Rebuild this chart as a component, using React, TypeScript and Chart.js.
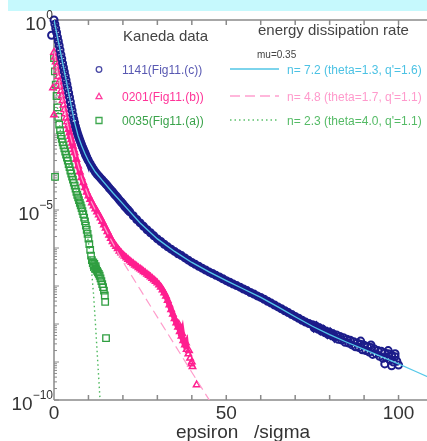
import React, { useEffect, useRef } from "react";
import { Chart, registerables } from "chart.js";

Chart.register(...registerables);

// ---- data (x = epsilon/sigma, value given as log10 of the probability) ----
const xTickValues = [0, 50, 100];
const xTickLabels = ["0", "50", "100"];
const yTickExps = [0, -5, -10];
const axisTitle = "epsiron   /sigma";

const kaneda1141: number[][] = [
  [-0.7, -0.4],
  [0, 0], [0.25, -0.11], [0.5, -0.22], [0.75, -0.33], [1, -0.45], [1.25, -0.56], [1.5, -0.67], [1.75, -0.79],
  [2, -0.91], [2.25, -1.02], [2.5, -1.14], [2.75, -1.25], [3, -1.36], [3.25, -1.47], [3.5, -1.58], [3.75, -1.69],
  [4, -1.8], [4.25, -1.92], [4.5, -2.03], [4.75, -2.15], [5, -2.27], [5.25, -2.38], [5.5, -2.5], [5.75, -2.61],
  [6, -2.7], [6.25, -2.8], [6.5, -2.88], [6.75, -2.96], [7, -3.03], [7.25, -3.1], [7.5, -3.16], [7.75, -3.22],
  [8, -3.28], [8.25, -3.34], [8.5, -3.39], [8.75, -3.45], [9, -3.5], [9.25, -3.56], [9.5, -3.61], [9.75, -3.66],
  [10, -3.7], [10.5, -3.78], [11, -3.86], [11.5, -3.93], [12, -4.0], [12.5, -4.06], [13, -4.11], [13.5, -4.16],
  [14, -4.21], [14.5, -4.26], [15, -4.31], [15.5, -4.36], [16, -4.42], [16.5, -4.47], [17, -4.52], [17.5, -4.58],
  [18, -4.63], [18.5, -4.68], [19, -4.74], [19.5, -4.79], [20, -4.84], [20.5, -4.9], [21, -4.95], [21.5, -5.0],
  [22, -5.05], [23, -5.15], [24, -5.25], [25, -5.34], [26, -5.43], [27, -5.52], [28, -5.6], [29, -5.68],
  [30, -5.76], [31, -5.83], [32, -5.9], [33, -5.97], [34, -6.03], [35, -6.09], [36, -6.15], [37, -6.2],
  [38, -6.26], [39, -6.32], [40, -6.38], [41, -6.43], [42, -6.48], [43, -6.53], [44, -6.58], [45, -6.63],
  [46, -6.67], [47, -6.72], [48, -6.76], [49, -6.81], [50, -6.86], [51, -6.9], [52, -6.95], [53, -6.99],
  [54, -7.03], [55, -7.08], [56, -7.12], [57, -7.17], [58, -7.21], [59, -7.26], [60, -7.3], [61, -7.35],
  [62, -7.4], [63, -7.45], [64, -7.5], [65, -7.55], [66, -7.6], [67, -7.65], [68, -7.7], [69, -7.75],
  [70, -7.8], [71, -7.85], [72, -7.9], [73, -7.95], [74, -7.99],
  [75, -8.02], [75.5, -8.1], [76, -8.05], [76.5, -8.13], [77, -8.1], [77.5, -8.18], [78, -8.14], [78.5, -8.22],
  [79, -8.19], [79.5, -8.27], [80, -8.22], [80.5, -8.3], [81, -8.26], [81.5, -8.35], [82, -8.29], [82.5, -8.4],
  [83, -8.33], [83.5, -8.42], [84, -8.36], [84.5, -8.48], [85, -8.4], [85.5, -8.5], [86, -8.43], [86.5, -8.55],
  [87, -8.47], [87.5, -8.6], [88, -8.5], [88.5, -8.62], [89, -8.53], [89, -8.45], [89.5, -8.68], [90, -8.56],
  [90.5, -8.7], [91, -8.6], [91.5, -8.74], [92, -8.62], [92, -8.55], [92.5, -8.8], [93, -8.66], [93.5, -8.78],
  [94, -8.7], [94.5, -8.85], [95, -8.72], [95.5, -8.9], [96, -8.76], [96, -9.05], [96.5, -8.88], [97, -8.78],
  [97, -8.7], [97.5, -8.95], [98, -8.82], [98, -9.1], [98.5, -9.0], [99, -8.86], [99, -8.78], [99.5, -8.98],
  [100, -9.08],
];

const kaneda0201: number[][] = [
  [-0.3, -1.32], [-0.3, -1.79], [0, -2.5],
  [0, -0.85], [0.25, -0.98], [0.5, -1.1], [0.75, -1.23], [1, -1.36], [1.25, -1.49], [1.5, -1.62], [1.75, -1.75],
  [2, -1.88], [2.25, -2.0], [2.5, -2.12], [2.75, -2.24], [3, -2.36], [3.25, -2.47], [3.5, -2.58], [3.75, -2.68],
  [4, -2.78], [4.25, -2.88], [4.5, -2.97], [4.75, -3.06], [5, -3.15], [5.25, -3.24], [5.5, -3.32], [5.75, -3.41],
  [6, -3.49], [6.5, -3.67], [7, -3.84], [7.5, -4.0], [8, -4.15], [8.5, -4.28], [9, -4.41], [9.5, -4.53],
  [10, -4.63], [10.5, -4.72], [11, -4.81], [11.5, -4.89], [12, -4.97], [12.5, -5.05], [13, -5.13], [13.5, -5.21],
  [14, -5.3], [14.5, -5.39], [15, -5.48], [15.5, -5.57], [16, -5.66], [16.5, -5.75], [17, -5.83], [17.5, -5.9],
  [18, -5.96], [18.5, -6.02], [19, -6.08], [19.5, -6.13], [20, -6.18], [20.5, -6.22], [21, -6.26], [21.5, -6.3],
  [22, -6.34], [22.5, -6.38], [23, -6.41], [23.5, -6.45], [24, -6.48], [24.5, -6.52], [25, -6.55], [25.5, -6.58],
  [26, -6.62], [26.5, -6.65], [27, -6.69], [27.5, -6.72], [28, -6.76], [28.5, -6.8], [29, -6.84], [29.5, -6.88],
  [30, -6.92], [30.5, -6.97], [31, -7.03], [31.5, -7.1], [32, -7.18], [32.5, -7.27], [33, -7.38], [33.5, -7.5],
  [34, -7.62], [34.5, -7.74], [35, -7.86], [35.5, -7.97], [36, -8.08], [36.2, -8.0], [36.5, -8.2], [37, -8.32],
  [37.2, -8.25], [37.5, -8.44], [38, -8.55], [38.3, -8.5], [38.5, -8.67], [39, -8.79], [39.2, -8.7], [39.5, -8.9],
  [39.8, -9.05], [40, -9.0], [40.2, -9.12], [41.4, -9.6],
];

const kaneda0035: number[][] = [
  [0.3, -4.13],
  [0, -1.0], [0.25, -1.35], [0.5, -1.7], [0.75, -2.0], [1, -2.3], [1.25, -2.55], [1.5, -2.75], [1.75, -2.9],
  [2, -3.03], [2.25, -3.13], [2.5, -3.22], [2.75, -3.3], [3, -3.38], [3.25, -3.46], [3.5, -3.54], [3.75, -3.62],
  [4, -3.7], [4.25, -3.79], [4.5, -3.87], [4.75, -3.96], [5, -4.04], [5.25, -4.12], [5.5, -4.2], [5.75, -4.28],
  [6, -4.36], [6.25, -4.44], [6.5, -4.52], [6.75, -4.6], [7, -4.67], [7.25, -4.74], [7.5, -4.81], [7.75, -4.88],
  [8, -4.95], [8.25, -5.03], [8.5, -5.11], [8.75, -5.2], [9, -5.3], [9.25, -5.41], [9.5, -5.52], [9.75, -5.63],
  [10, -5.75], [10.25, -5.9], [10.5, -6.05], [10.75, -6.2], [11, -6.32], [11.25, -6.4], [11.4, -6.38], [11.5, -6.45],
  [11.6, -6.5], [11.7, -6.42], [11.75, -6.5], [11.9, -6.55], [12, -6.53], [12.1, -6.48], [12.25, -6.56], [12.5, -6.6],
  [12.75, -6.64], [13, -6.68], [13.25, -6.73], [13.5, -6.8], [13.75, -6.87], [14, -6.95], [14.25, -7.03], [14.5, -7.12],
  [14.75, -7.25], [14.85, -7.42], [15.1, -8.37],
];

// fits (mu = 0.35)
const fitN72: number[][] = [
  [0, 0], [1, -0.45], [2, -0.9], [3, -1.35], [4, -1.8], [5, -2.26], [6, -2.7], [7, -3.05], [8, -3.3], [9, -3.52],
  [10, -3.71], [12, -4.0], [14, -4.22], [17, -4.54], [20, -4.84], [25, -5.34], [30, -5.76], [35, -6.09], [40, -6.38],
  [45, -6.63], [50, -6.86], [55, -7.08], [60, -7.3], [65, -7.55], [70, -7.81], [75, -8.06], [80, -8.28], [85, -8.48],
  [90, -8.67], [95, -8.86], [100, -9.05], [105, -9.25], [110, -9.45],
];
const fitN48: number[][] = [
  [0, -0.85], [1, -1.36], [2, -1.88], [3, -2.36], [4, -2.78], [5, -3.15], [6, -3.49], [8, -4.15], [10, -4.63],
  [12, -5.0], [14, -5.33], [16, -5.69], [18, -6.03], [20, -6.36], [25, -7.09], [30, -7.82], [35, -8.54], [40, -9.27],
  [45, -9.99], [46, -10.14],
];
const fitN23: number[][] = [
  [0, -1.0], [1, -2.3], [2, -3.03], [4, -3.7], [6, -4.36], [8, -4.95], [9, -5.3], [10, -5.85], [10.5, -6.25],
  [11, -6.7], [11.5, -7.25], [12, -7.95], [12.5, -8.7], [13, -9.45], [13.5, -10.2],
];

const toPts = (arr: number[][]) => arr.map(([x, e]) => ({ x, y: Math.pow(10, e) }));

const FONT = '"Liberation Sans", Arial, sans-serif';

// dense markers overlap into a solid band: draw that band between lo and hi
const bandSegment = (color: string, lo: number, hi: number) => ({
  borderColor: (c: any) =>
    c.p0.parsed.x >= lo && c.p1.parsed.x <= hi && c.p1.parsed.x >= c.p0.parsed.x ? color : "rgba(0,0,0,0)",
});

const drawPlugin = {
  id: "paperAxes",
  beforeDatasetsDraw(chart: any) {
    const { ctx, chartArea: a, scales } = chart;
    const xs = scales.x, ys = scales.y;
    ctx.save();
    ctx.strokeStyle = "#8a8a8a";
    ctx.lineWidth = 1.5;
    ctx.beginPath();
    ctx.moveTo(a.left, a.top); ctx.lineTo(a.right, a.top);
    ctx.moveTo(a.left, a.bottom); ctx.lineTo(a.right, a.bottom);
    ctx.moveTo(a.left, a.top); ctx.lineTo(a.left, a.bottom);
    ctx.moveTo(a.right, a.top); ctx.lineTo(a.right, a.bottom);
    for (let v = 0; v <= 110; v += 10) {
      const px = xs.getPixelForValue(v);
      ctx.moveTo(px, a.bottom); ctx.lineTo(px, a.bottom - 5);
      ctx.moveTo(px, a.top); ctx.lineTo(px, a.top + 5);
    }
    ctx.stroke();
    ctx.lineWidth = 1;
    ctx.beginPath();
    for (let e = -10; e <= 0; e++) {
      const py = ys.getPixelForValue(Math.pow(10, e));
      ctx.moveTo(a.left, py); ctx.lineTo(a.left + 5, py);
      if (e < 0) {
        for (let m = 2; m <= 9; m++) {
          const q = ys.getPixelForValue(m * Math.pow(10, e));
          ctx.moveTo(a.left, q); ctx.lineTo(a.left + 3, q);
        }
      }
    }
    ctx.stroke();
    ctx.restore();
  },
  afterDraw(chart: any) {
    const { ctx, chartArea: a, scales } = chart;
    const xs = scales.x, ys = scales.y;
    ctx.save();
    ctx.fillStyle = "#333";
    ctx.textBaseline = "middle";
    ctx.font = `19px ${FONT}`;
    ctx.textAlign = "center";
    xTickValues.forEach((v, i) => ctx.fillText(xTickLabels[i], xs.getPixelForValue(v), a.bottom + 14));
    ctx.fillText(axisTitle, 243, a.bottom + 33);
    yTickExps.forEach((e) => {
      const py = ys.getPixelForValue(Math.pow(10, e));
      const sup = e === 0 ? "0" : "\u2212" + String(-e);
      ctx.font = `12px ${FONT}`;
      ctx.textAlign = "right";
      const sw = ctx.measureText(sup).width;
      ctx.fillText(sup, 53, py - 4);
      ctx.font = `19px ${FONT}`;
      ctx.fillText("10", 53 - sw, py + 5);
    });
    ctx.textAlign = "left";
    ctx.fillStyle = "#444";
    ctx.font = `15px ${FONT}`;
    ctx.fillText("Kaneda data", 123, 37);
    ctx.fillText("energy dissipation rate", 258, 31);
    ctx.font = `10px ${FONT}`;
    ctx.fillText("mu=0.35", 257, 55);

    const rows = [
      { y: 71, mark: "circle", mc: "#4a4aa6", tc: "#5858b2", label: "1141(Fig11.(c))", lc: "#52c6e6", dash: [], fit: "n= 7.2 (theta=1.3, q'=1.6)", fc: "#4cc2e4" },
      { y: 98, mark: "triangle", mc: "#ff3d9e", tc: "#ff3398", label: "0201(Fig11.(b))", lc: "#ffa0cf", dash: [10, 5], fit: "n= 4.8 (theta=1.7, q'=1.1)", fc: "#ff9acc" },
      { y: 122, mark: "square", mc: "#3fa84f", tc: "#3aa34a", label: "0035(Fig11.(a))", lc: "#5cc06c", dash: [1.5, 3], fit: "n= 2.3 (theta=4.0, q'=1.1)", fc: "#55bb66" },
    ];
    ctx.font = `12px ${FONT}`;
    rows.forEach((r) => {
      ctx.strokeStyle = r.mc;
      ctx.lineWidth = 1.3;
      ctx.setLineDash([]);
      ctx.beginPath();
      const mx = 99, my = r.y - 1.5;
      if (r.mark === "circle") ctx.arc(mx, my, 2.8, 0, Math.PI * 2);
      else if (r.mark === "triangle") { ctx.moveTo(mx, my - 3.2); ctx.lineTo(mx + 3, my + 2.2); ctx.lineTo(mx - 3, my + 2.2); ctx.closePath(); }
      else ctx.rect(mx - 3, my - 3, 6, 6);
      ctx.stroke();
      ctx.fillStyle = r.tc;
      ctx.fillText(r.label, 122, r.y);
      ctx.strokeStyle = r.lc;
      ctx.lineWidth = 1.3;
      ctx.setLineDash(r.dash);
      ctx.beginPath();
      ctx.moveTo(230, r.y - 2); ctx.lineTo(279, r.y - 2);
      ctx.stroke();
      ctx.setLineDash([]);
      ctx.fillStyle = r.fc;
      ctx.fillText(r.fit, 287, r.y);
    });
    ctx.restore();
  },
};

export default function App() {
  const ref = useRef<HTMLCanvasElement>(null);
  useEffect(() => {
    const noClip = { left: 12, top: 12, right: 0, bottom: 0 };
    const navy = "#1c1c8a", pink = "#ff1f8f", green = "#2f9e40";
    const chart = new Chart(ref.current as HTMLCanvasElement, {
      type: "scatter",
      data: {
        datasets: [
          { label: "n=7.2", data: toPts(fitN72), showLine: true, borderColor: "#55c8e8", borderWidth: 1.3, pointRadius: 0, tension: 0 },
          { label: "n=4.8", data: toPts(fitN48), showLine: true, borderColor: "#ff9ccb", borderWidth: 1.2, borderDash: [9, 5], pointRadius: 0, tension: 0 },
          { label: "n=2.3", data: toPts(fitN23), showLine: true, borderColor: "#4cb85c", borderWidth: 1.4, borderDash: [1.5, 3], pointRadius: 0, tension: 0 },
          {
            label: "1141", data: toPts(kaneda1141), showLine: true, borderColor: navy, borderWidth: 6.5, tension: 0,
            segment: bandSegment(navy, 6, 82) as any,
            pointStyle: "circle", pointRadius: 3.5, pointBorderWidth: 2, pointBorderColor: navy, pointBackgroundColor: "rgba(0,0,0,0)", clip: noClip as any,
          },
          {
            label: "0201", data: toPts(kaneda0201), showLine: true, borderColor: pink, borderWidth: 5.5, tension: 0,
            segment: bandSegment(pink, 4, 38.6) as any,
            pointStyle: "triangle", pointRadius: 3.7, pointBorderWidth: 1.5, pointBorderColor: pink, pointBackgroundColor: "rgba(0,0,0,0)", clip: noClip as any,
          },
          {
            label: "0035", data: toPts(kaneda0035), pointStyle: "rect", pointRadius: 4.6, pointBorderWidth: 1.3,
            pointBorderColor: green, pointBackgroundColor: "rgba(0,0,0,0)", borderColor: green, clip: noClip as any,
          },
        ],
      },
      options: {
        responsive: false,
        devicePixelRatio: 1,
        animation: false,
        events: [],
        layout: { padding: { left: 54, top: 20, right: 7, bottom: 41 } },
        plugins: { legend: { display: false }, tooltip: { enabled: false } },
        scales: {
          x: { type: "linear", min: 0, max: 110, display: false },
          y: { type: "logarithmic", min: 1e-10, max: 1, display: false },
        },
      },
      plugins: [drawPlugin],
    });
    return () => chart.destroy();
  }, []);
  return (
    <div style={{ position: "fixed", left: 0, top: 0, width: 427, height: 441, overflow: "hidden", background: "#fff" }}>
      <div style={{ position: "absolute", left: 8, top: 0, width: 419, height: 11, background: "#c6f9fd" }} />
      <canvas ref={ref} width={440} height={441} style={{ position: "absolute", left: 0, top: 0, width: 440, height: 441 }} />
    </div>
  );
}
